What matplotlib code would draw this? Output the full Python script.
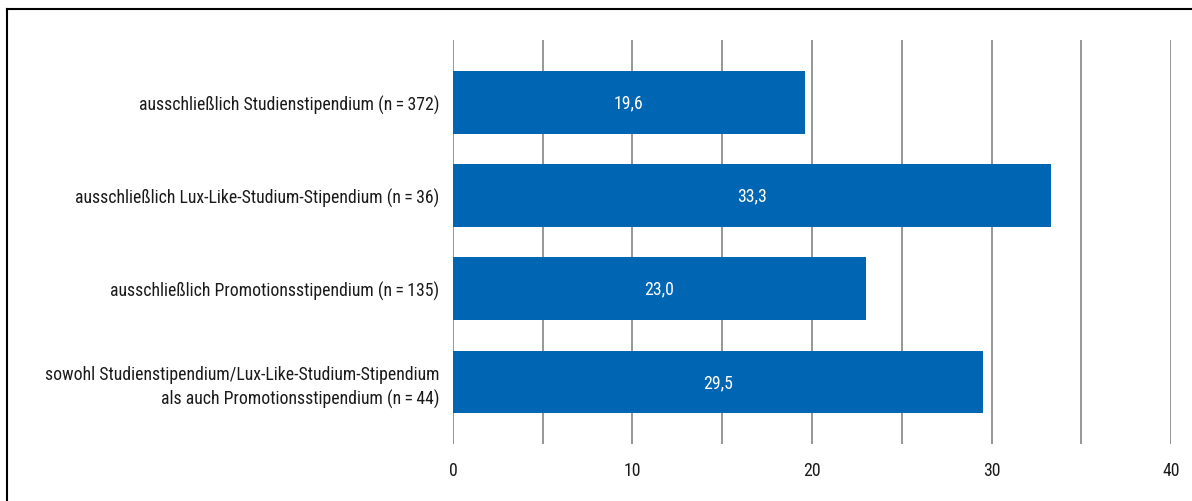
import matplotlib.pyplot as plt
from matplotlib.lines import Line2D

# Anteile in Prozent je Stipendiengruppe
kategorien = [
    "ausschließlich Studienstipendium (n\u2009=\u2009372)",
    "ausschließlich Lux-Like-Studium-Stipendium (n\u2009=\u200936)",
    "ausschließlich Promotionsstipendium (n\u2009=\u2009135)",
    "sowohl Studienstipendium/Lux-Like-Studium-Stipendium\nals auch Promotionsstipendium (n\u2009=\u200944)",
]
werte = [19.6, 33.3, 23.0, 29.5]
x_ticks = [0, 10, 20, 30, 40]

blau = "#0066b3"
plt.rcParams['font.family'] = ['Roboto Condensed', 'DejaVu Sans']
plt.rcParams['font.size'] = 12.8

fig = plt.figure(figsize=(11.92, 5.02), dpi=100)
ax = fig.add_axes([0.380, 0.1135, 0.6024, 0.8045])

y = list(range(len(kategorien)))
balken = ax.barh(y, werte, height=0.67, color=blau, zorder=3)

for b, w in zip(balken, werte):
    ax.text(w / 2, b.get_y() + b.get_height() / 2,
            f"{w:.1f}".replace(".", ","),
            ha="center", va="center", color="white", zorder=4)

ax.set_yticks(y)
ax.set_yticklabels(kategorien, ha="right", linespacing=1.35, color="#1a1a1a")
ax.set_ylim(len(kategorien) - 1 + 0.667, -0.667)
ax.set_xlim(0, 40)
ax.set_xticks(x_ticks)
ax.set_xticklabels([str(t) for t in x_ticks], color="#1a1a1a")

# senkrechte Hilfslinien im Abstand von 5
for g in range(0, 41, 5):
    ax.axvline(g, color="#858585", linewidth=1.2, zorder=1)

ax.tick_params(axis="both", length=0)
ax.tick_params(axis="y", pad=10)
ax.tick_params(axis="x", pad=12)
for s in ax.spines.values():
    s.set_visible(False)

# Rahmen oben und links
fig.add_artist(Line2D([0.006, 0.006], [0.0, 0.98], transform=fig.transFigure,
                      color="black", linewidth=1.5))
fig.add_artist(Line2D([0.006, 1.0], [0.98, 0.98], transform=fig.transFigure,
                      color="black", linewidth=1.5))

fig.savefig("out.png", dpi=100)
